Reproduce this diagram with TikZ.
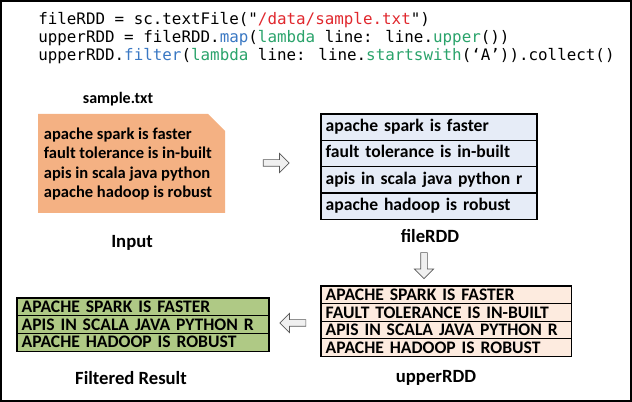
\documentclass[tikz,border=0pt]{standalone}
\usepackage{fontspec}
\setmainfont{Carlito}
\newfontfamily\codefont{DejaVu Sans Mono}
\usetikzlibrary{positioning,shapes.arrows}
\definecolor{CodeRed}{HTML}{E0282E}
\definecolor{CodeBlue}{HTML}{3A78C3}
\definecolor{CodeGreen}{HTML}{2AA36B}
\definecolor{NoteOrange}{HTML}{F4B183}
\definecolor{FileBlue}{HTML}{E6ECF7}
\definecolor{UpperPeach}{HTML}{FDEBDF}
\definecolor{ResultGreen}{HTML}{AFC985}

\tikzset{
  codeline/.style={anchor=west, inner sep=0pt, font=\codefont\fontsize{11.9}{14}\selectfont},
  rddrow/.style={draw=black, line width=0.8pt, outer sep=0pt, inner xsep=3.5pt, inner ysep=0pt,
    align=left, font=\bfseries\fontsize{13.2}{15}\selectfont},
  filerow/.style={rddrow, fill=FileBlue, text width=155pt, minimum height=19.7pt, text height=9.4pt, text depth=2.6pt},
  upperrow/.style={rddrow, fill=UpperPeach, text width=181pt, minimum height=13.2pt, text height=8.8pt, text depth=0.3pt},
  resultrow/.style={rddrow, fill=ResultGreen, text width=182pt, minimum height=13.3pt, text height=8.8pt, text depth=0.3pt},
  caption/.style={font=\bfseries\fontsize{14}{15}\selectfont},
  blockarrow/.style={single arrow, draw=gray!70!black, fill=gray!12, line width=0.5pt, minimum height=19.5pt,
    inner xsep=0pt, inner ysep=2.25pt, single arrow head extend=4.75pt},
}

\begin{document}
\begin{tikzpicture}[x=0.75pt, y=-0.75pt]
    \useasboundingbox (0,0) rectangle (632,402);
    % Frame
    \draw[line width=1.2pt] (1,1) rectangle (631,401);

    % Code
    \node[codeline] (code1) at (38,20) {fileRDD = sc.textFile("\textcolor{CodeRed}{/data/sample.txt}")};
    \node[codeline] (code2) at (38,38) {upperRDD = fileRDD.\textcolor{CodeBlue}{map}(\textcolor{CodeGreen}{lambda} line: line.\textcolor{CodeGreen}{upper}())};
    \node[codeline] (code3) at (38,56) {upperRDD.\textcolor{CodeBlue}{filter}(\textcolor{CodeGreen}{lambda} line: line.\textcolor{CodeGreen}{startswith}(‘A’)).collect()};

    % Input file
    \node[font=\bfseries\fontsize{12}{14}\selectfont] (samplelabel) at (118,99) {sample.txt};
    \fill[NoteOrange] (38,114) -- (208,114) -- (225,131) -- (225,213) -- (38,213) -- cycle;
    \node[anchor=west, inner sep=2pt, align=left, font=\bfseries\fontsize{12.4}{14.5}\selectfont] (inputtext) at (41,164)
        {apache spark is faster\\fault tolerance is in-built\\apis in scala java python\\apache hadoop is robust};
    \node[caption] (inputlabel) at (132,243) {Input};

    % fileRDD
    \node[filerow, anchor=north west] (file1) at (321,114) {apache spark is faster};
    \node[filerow, below=0pt of file1] (file2) {fault tolerance is in-built};
    \node[filerow, below=0pt of file2] (file3) {apis in scala java python r};
    \node[filerow, below=0pt of file3] (file4) {apache hadoop is robust};
    \draw[line width=1.6pt] (file3.south west) -- (file3.south east);
    \node[caption] (filelabel) at (430,236) {fileRDD};

    % upperRDD
    \node[upperrow, anchor=north west] (upper1) at (321,286) {APACHE SPARK IS FASTER};
    \node[upperrow, below=0pt of upper1] (upper2) {FAULT TOLERANCE IS IN-BUILT};
    \node[upperrow, below=0pt of upper2] (upper3) {APIS IN SCALA JAVA PYTHON R};
    \node[upperrow, below=0pt of upper3] (upper4) {APACHE HADOOP IS ROBUST};
    \node[caption] (upperlabel) at (436,378) {upperRDD};

    % Filtered result
    \node[resultrow, anchor=north west] (result1) at (17,298) {APACHE SPARK IS FASTER};
    \node[resultrow, below=0pt of result1] (result2) {APIS IN SCALA JAVA PYTHON R};
    \node[resultrow, below=0pt of result2] (result3) {APACHE HADOOP IS ROBUST};
    \node[caption] (resultlabel) at (131,378) {Filtered Result};

    % Block arrows
    \node[blockarrow] (toFile) at (274.5,163) {};
    \node[blockarrow, rotate=-90] (toUpper) at (424,264) {};
    \node[blockarrow, rotate=180] (toResult) at (294.5,323) {};
\end{tikzpicture}
\end{document}
